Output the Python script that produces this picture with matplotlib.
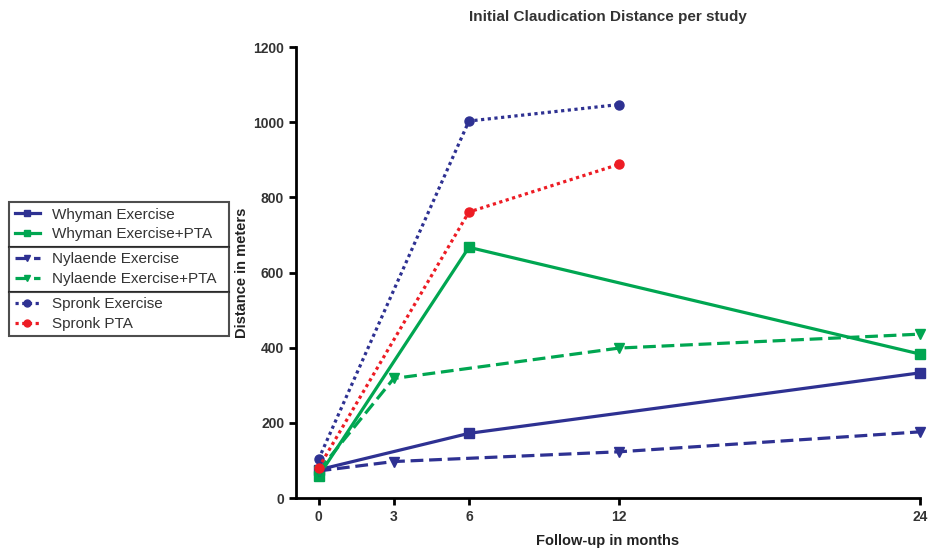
import matplotlib.pyplot as plt

# === DATA ===

whyman_x = [0, 6, 24]
whyman_ex = [75, 172, 333]
whyman_pta = [58, 667, 383]

nyl_x = [0, 3, 12, 24]
nyl_ex = [72, 97, 123, 176]
nyl_pta = [72, 318, 399, 436]

spronk_x = [0, 6, 12]
spronk_ex = [103, 1003, 1047]
spronk_pta = [80, 761, 888]

x_ticks = [0, 3, 6, 12, 24]
y_ticks = [0, 200, 400, 600, 800, 1000, 1200]

BLUE = '#2e3192'
GREEN = '#00a651'
RED = '#ed1c24'

plt.rcParams['font.family'] = ['Liberation Sans', 'DejaVu Sans']

W, H = 932, 549
fig = plt.figure(figsize=(W / 100, H / 100), dpi=100)
ax = fig.add_axes([296 / W, 1 - 498 / H, (920 - 296) / W, (498 - 47) / H])

lw = 2.3
ms = 6.5
dot = (0, (1, 1.1))
dash = (0, (4, 1.8))

series = [
    (whyman_x, whyman_ex, BLUE, '-', 's', 'Whyman Exercise'),
    (whyman_x, whyman_pta, GREEN, '-', 's', 'Whyman Exercise+PTA'),
    (nyl_x, nyl_ex, BLUE, dash, 'v', 'Nylaende Exercise'),
    (nyl_x, nyl_pta, GREEN, dash, 'v', 'Nylaende Exercise+PTA'),
    (spronk_x, spronk_ex, BLUE, dot, 'o', 'Spronk Exercise'),
    (spronk_x, spronk_pta, RED, dot, 'o', 'Spronk PTA'),
]

handles = []
for xs, ys, c, ls, mk, lab in series:
    h, = ax.plot(xs, ys, color=c, linestyle=ls, linewidth=lw, marker=mk,
                 markersize=ms, label=lab, clip_on=False, zorder=3)
    handles.append(h)

# === AXES STYLING ===

ax.set_xlim(-0.9, 24)
ax.set_ylim(0, 1200)
ax.set_xticks(x_ticks)
ax.set_yticks(y_ticks)
ax.spines['top'].set_visible(False)
ax.spines['right'].set_visible(False)
for s in ['left', 'bottom']:
    ax.spines[s].set_linewidth(2)
ax.tick_params(width=2, length=5, labelsize=10)
for t in ax.get_xticklabels() + ax.get_yticklabels():
    t.set_fontweight('bold')
    t.set_color('#333333')

ax.set_title("Initial Claudication Distance per study", fontsize=11, fontweight='bold',
             color='#333333', pad=19)
ax.set_ylabel("Distance in meters", fontsize=10.5, fontweight='bold', color='#222222', labelpad=3)
ax.set_xlabel("Follow-up in months", fontsize=10.5, fontweight='bold', color='#222222', labelpad=7)

# === GROUPED LEGEND (three stacked boxes sharing borders) ===

top = 202
for hs in [handles[0:2], handles[2:4], handles[4:6]]:
    leg = fig.legend(hs, [h.get_label() for h in hs],
                     bbox_to_anchor=(9 / W, 1 - top / H - 0.001, (229 - 9) / W, 0.001),
                     loc='upper left', mode='expand', frameon=True, fancybox=False,
                     borderaxespad=0, handlelength=1.7, fontsize=11, labelspacing=0.38,
                     borderpad=0.36, handletextpad=0.75)
    leg.get_frame().set_edgecolor('#222222')
    leg.get_frame().set_linewidth(1.5)
    for t in leg.get_texts():
        t.set_color('#333333')
    for lh in leg.legend_handles:
        lh.set_markersize(5)
    fig.canvas.draw()
    bb = leg.get_window_extent()
    top = H - bb.y0

fig.savefig('out.png', dpi=100)
